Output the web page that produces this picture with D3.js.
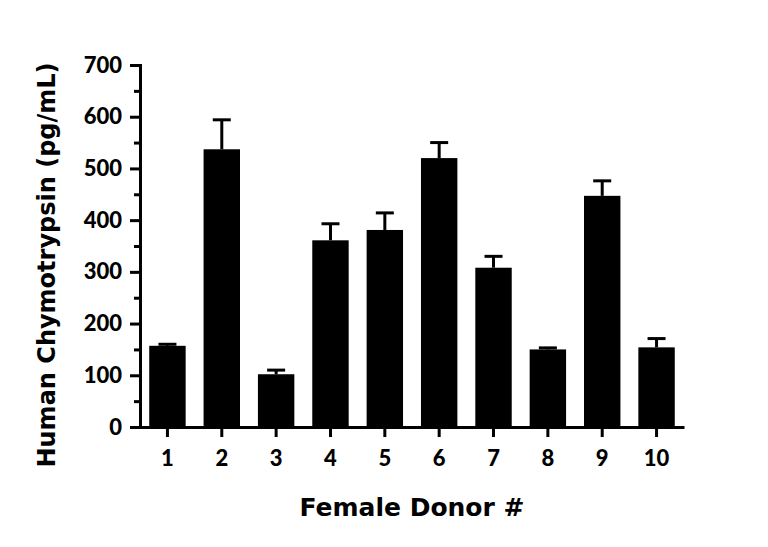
<!DOCTYPE html>
<html>
<head>
<meta charset="utf-8">
<script src="https://cdn.jsdelivr.net/npm/d3@7"></script>
<style>
  body { margin: 0; background: #fff; }
  text { font-family: "DejaVu Sans", sans-serif; font-weight: bold; }
</style>
</head>
<body>
<svg id="chart" width="768" height="547"></svg>
<script>
const donors = ["1", "2", "3", "4", "5", "6", "7", "8", "9", "10"];
const means = [157, 537, 102, 361, 381, 520, 308, 150, 447, 154];
const errors = [3, 57, 8, 32, 33, 30, 22, 3, 29, 17];
const yTicks = [0, 100, 200, 300, 400, 500, 600, 700];

const data = donors.map((d, i) => ({ donor: d, mean: means[i], err: errors[i] }));

const svg = d3.select("#chart");
const plotLeft = 140, plotRight = 684, plotTop = 65, plotBottom = 427;

const x = d3.scaleBand().domain(donors).range([plotLeft, plotRight]).paddingInner(0.33).paddingOuter(0.17);
const y = d3.scaleLinear().domain([0, 700]).range([plotBottom, plotTop]);

// bars
svg.selectAll(".bar")
  .data(data)
  .enter()
  .append("rect")
  .attr("class", "bar")
  .attr("x", d => x(d.donor))
  .attr("y", d => y(d.mean))
  .attr("width", x.bandwidth())
  .attr("height", d => y(0) - y(d.mean))
  .style("fill", "black");

// error bars (upper only)
const eb = svg.selectAll(".err").data(data).enter().append("g").attr("class", "err")
  .style("stroke", "black").style("stroke-width", 3);
eb.append("line")
  .attr("x1", d => x(d.donor) + x.bandwidth() / 2)
  .attr("x2", d => x(d.donor) + x.bandwidth() / 2)
  .attr("y1", d => y(d.mean))
  .attr("y2", d => y(d.mean + d.err));
eb.append("line")
  .attr("x1", d => x(d.donor) + x.bandwidth() / 2 - 9)
  .attr("x2", d => x(d.donor) + x.bandwidth() / 2 + 9)
  .attr("y1", d => y(d.mean + d.err))
  .attr("y2", d => y(d.mean + d.err));

// y axis
svg.append("g").attr("transform", `translate(${plotLeft},0)`)
  .call(d3.axisLeft(y).tickValues(yTicks).tickSize(10).tickPadding(8));
svg.append("g").attr("transform", `translate(${plotLeft},0)`)
  .call(d3.axisLeft(y).tickValues(d3.range(50, 700, 100)).tickSize(6).tickFormat(""))
  .call(g => g.select(".domain").remove());

// x axis
svg.append("g").attr("transform", `translate(0,${plotBottom})`)
  .call(d3.axisBottom(x).tickSize(10).tickPadding(13).tickSizeOuter(0));

svg.selectAll(".domain").style("stroke-width", 3).attr("stroke", "black");
svg.selectAll(".tick line").style("stroke-width", 3).attr("stroke", "black");
svg.selectAll(".tick text").style("font-size", "22px").attr("fill", "black")
  .style("font-family", "Lato, 'DejaVu Sans', sans-serif").style("font-weight", "900");

// axis titles
svg.append("text")
  .attr("transform", `translate(55,${(plotTop + plotBottom) / 2 + 19}) rotate(-90)`)
  .attr("text-anchor", "middle")
  .style("font-size", "24px")
  .text("Human Chymotrypsin (pg/mL)");

svg.append("text")
  .attr("x", 412)
  .attr("y", 516)
  .attr("text-anchor", "middle")
  .style("font-size", "25px")
  .text("Female Donor #");
</script>
</body>
</html>
